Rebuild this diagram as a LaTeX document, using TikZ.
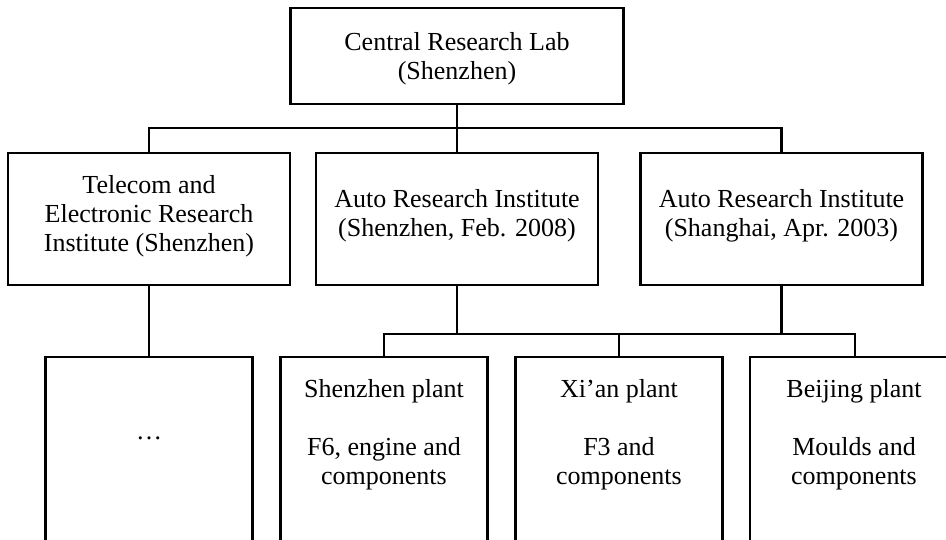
\documentclass[tikz,border=0pt]{standalone}
\usepackage{fontspec}
\setmainfont{Liberation Serif}
\begin{document}
\begin{tikzpicture}[x=1pt,y=-1pt,
  box/.style={draw, line width=2.6pt, inner sep=0pt},
  rowbox/.style={box, minimum width=282pt, minimum height=132pt},
  plantbox/.style={box, minimum width=207pt, minimum height=243pt},
  txt/.style={inner sep=0pt, align=center, font=\fontsize{26}{29}\selectfont},
  conn/.style={line width=2.6pt}]
\useasboundingbox (0,0) rectangle (946,539);
\clip (0,0) rectangle (946,539);
\fill[white] (0,0) rectangle (946,539);

% boxes
\node[box, minimum width=333pt, minimum height=96pt] (top) at (457,56) {};
\node[rowbox] (tel) at (149,219) {};
\node[rowbox] (asz) at (457,219) {};
\node[rowbox] (ash) at (781.5,219) {};
\node[plantbox] (dots) at (149,478.5) {};
\node[plantbox] (szp) at (384,478.5) {};
\node[plantbox] (xap) at (619,478.5) {};
\node[plantbox, minimum width=210pt] (bjp) at (855,478.5) {};

% texts
\node[txt] (toptxt) at (457,58.5) {Central Research Lab\\(Shenzhen)};
\node[txt] (teltxt) at (149,216) {Telecom and\\Electronic Research\\Institute (Shenzhen)};
\node[txt] (asztxt) at (457,215.5) {Auto Research Institute\\(Shenzhen, Feb. 2008)};
\node[txt] (ashtxt) at (781.5,215.5) {Auto Research Institute\\(Shanghai, Apr. 2003)};
\node[txt, anchor=base] (dotstxt) at (149,439) {…};
\node[txt] (szptxt) at (384,434.6) {Shenzhen plant\\[29pt]F6, engine and\\components};
\node[txt] (xaptxt) at (619,434.6) {Xi’an plant\\[29pt]F3 and\\components};
\node[txt] (bjptxt) at (854,434.6) {Beijing plant\\[29pt]Moulds and\\components};

% connectors
\coordinate (j1) at (457,128);
\draw[conn] (top.south) -- (j1);
\draw[conn] (tel.north) |- (j1) -| (ash.north);
\draw[conn] (asz.north) -- (j1);
\draw[conn] (tel.south) -- (tel.south |- dots.north);
\coordinate (j2) at (619,334);
\draw[conn] (asz.south) |- (j2);
\draw[conn] (ash.south) |- (j2);
\draw[conn] (szp.north) |- (j2) -| (bjp.north);
\draw[conn] (xap.north) -- (j2);
\end{tikzpicture}
\end{document}
